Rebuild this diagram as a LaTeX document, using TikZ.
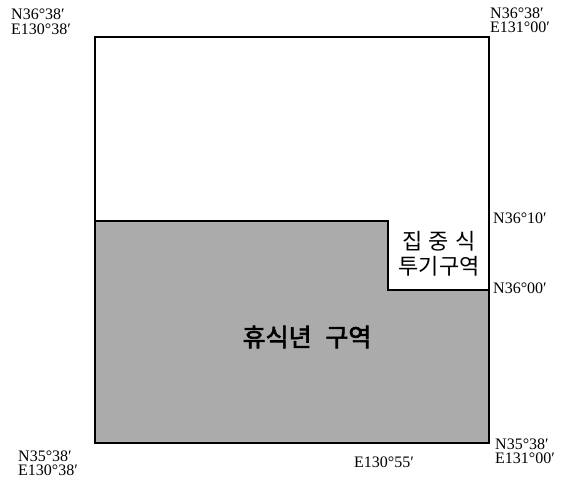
\documentclass[tikz,border=0pt]{standalone}
\usepackage{fontspec}
\setmainfont{Liberation Serif}
\newfontfamily\cjk{Noto Sans CJK KR}
\newfontfamily\cjkbold{Noto Sans CJK KR}[FakeBold=2.5]
\begin{document}
\begin{tikzpicture}[x=1pt,y=-1pt,
  coord/.style={font=\fontsize{16}{14}\selectfont, inner sep=0pt, align=left, anchor=base west},
  frame/.style={draw=black, line width=1.1pt}]
\useasboundingbox (0,0) rectangle (569,479);
% shaded zone
\fill[black!33] (95,221) rectangle (489,443);
\fill[white] (388,221) rectangle (489,290);
\draw[frame] (95,221) -- (388,221) -- (388,290) -- (489,290);
\draw[frame] (95,37) rectangle (489,443);
% labels (anchor = baseline of the last line)
\node[coord] (tl) at (11,34) {N36°38′\\E130°38′};
\node[coord] (tr) at (490,32) {N36°38′\\E131°00′};
\node[coord] (n10) at (493,223) {N36°10′};
\node[coord] (n00) at (493,293) {N36°00′};
\node[coord] (bl) at (18,475) {N35°38′\\E130°38′};
\node[coord] (br) at (495,463) {N35°38′\\E131°00′};
\node[coord] (e55) at (354,467) {E130°55′};
\node[font=\cjk\fontsize{22}{25}\selectfont, align=center, inner sep=0pt] (zone1) at (439,254) {집\hspace{0.3em}중\hspace{0.3em}식\\투기구역};
\node[font=\cjkbold\fontsize{25}{28}\selectfont, inner sep=0pt] (zone2) at (307,337) {휴식년\hspace{0.55em}구역};
\end{tikzpicture}
\end{document}
